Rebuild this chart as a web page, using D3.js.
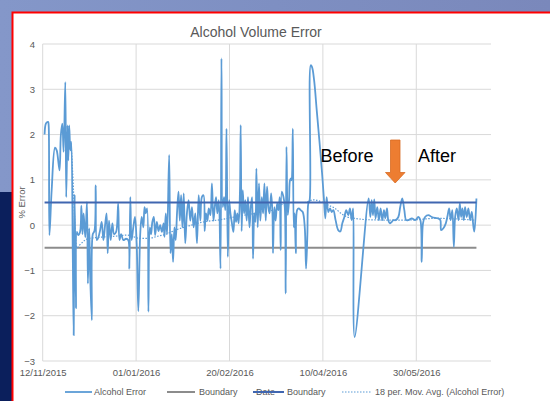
<!DOCTYPE html>
<html>
<head>
<meta charset="utf-8">
<script src="https://cdn.jsdelivr.net/npm/d3@7/dist/d3.min.js"></script>
<style>
  body { margin: 0; background: #fff; }
  svg { display: block; font-family: "Liberation Sans", Arial, sans-serif; }
</style>
</head>
<body>
<svg id="chart" width="550" height="401"></svg>
<script>
// data: day offset from 12/11/2015 and % error
const startDate = "12/11/2015";
const dayOffset = [
  1, 1.8, 2.9, 3.2, 3.6, 4.8, 6.6, 7.5, 9, 9.7, 10.5, 11.2, 12.1, 12.6, 13.3, 13.7, 14.2, 14.8, 15.3, 16.1,
  16.6, 17.1, 17.8, 18.3, 19, 20, 20.7, 21.3, 21.9, 22.8, 23.7, 24.2, 24.9, 25.4, 26.3, 26.8, 27.7, 28.4, 29, 29.8,
  30.7, 31.6, 32.5, 33.4, 34.2, 34.8, 35.5, 36.4, 37.3, 38.2, 39.3, 40.4, 41.1, 42, 43.2, 44.6, 45.8, 46.4, 46.9, 47.6,
  48.5, 49.4, 50.3, 51.2, 52.2, 53, 53.9, 54.5, 55.2, 55.9, 56.6, 57.3, 58, 58.7, 59.5, 60.2, 61.1, 62, 62.9, 63.8,
  64.7, 65.2, 65.9, 66.6, 67.7, 68.4, 69.1, 69.8, 70.5, 71.2, 71.9, 72.7, 73.4, 74.1, 74.8, 75.5, 76.3, 77.2, 78.1, 79,
  79.9, 80.8, 81.7, 82.6, 83.5, 84.4, 85.2, 86.1, 86.7, 87.4, 88.2, 88.9, 89.8, 90.6, 91.4, 92.1, 92.8, 93.5, 94.3, 95.2,
  95.7, 96.4, 97.1, 97.8, 98.4, 99.1, 99.8, 100.5, 101.2, 102.1, 102.8, 103.5, 104.2, 104.9, 105.6, 106, 106.5, 107.1, 107.8, 108.5,
  109.2, 109.9, 110.7, 111.4, 112.1, 112.6, 113.3, 113.9, 114.4, 115.1, 115.8, 116.5, 117.3, 118, 118.7, 119.4, 120.1, 120.8, 121.5, 122.3,
  123, 123.3, 124, 124.7, 125.5, 126.2, 126.9, 127.4, 128, 128.9, 129.6, 130.1, 130.5, 131.2, 131.9, 132.4, 133, 133.3, 133.9, 134.4,
  134.9, 135.5, 136.2, 137.1, 138.1, 139.2, 140.3, 141, 141.7, 142.2, 142.9, 143.5, 144.2, 145.3, 146.7, 148.1, 149.5, 150.6, 151.3, 152,
  152.9, 153.8, 154.7, 155.6, 156.8, 158.2, 159.3, 160.4, 161.5, 162.5, 163.6, 164.5, 165.4, 166.2, 167, 174.5, 175.4, 176.1, 176.8, 177.5,
  178.2, 179.1, 180, 180.9, 181.8, 182.7, 183.4, 184.3, 185, 185.9, 186.8, 187.7, 188.9, 190.4, 191.4, 192.5, 193.6, 194.6, 195.8, 197.6,
  199.4, 201.1, 202.2, 202.9, 203.6, 204.7, 206.5, 208.3, 210.1, 211.8, 212.9, 213.3, 214.5, 215.8, 216.8, 217.6, 218.4, 219.3, 220.1, 220.8,
  221.7, 222.6, 223.3, 224, 224.7, 225.4, 226.1, 227, 227.9, 228.8, 229.7, 230.6, 231.1, 232.2
];
const alcoholError = [
  2.0, 2.25, 2.28, 2.2, -0.22, 0.77, 1.71, 1.65, 1.21, 1.98, 2.24, 1.62, 3.16, 0.62, 2.2, 1.43, 2.2, 1.65, 1.84, -0.62,
  -2.43, 0.66, -1.84, -0.15, -0.22, -0.15, 0.43, -0.2, 0.26, -0.27, 0.51, -1.29, -0.07, -1.07, -2.1, -0.2, -0.13, 0.88, -0.33, -0.27,
  -0.12, 0.07, -0.33, 0, 0.26, -0.62, 0.1, -0.33, 0.04, -0.2, -0.15, 0.48, -0.33, -0.2, -0.33, -0.3, -0.33, -0.96, 0.62, -0.33,
  -0.05, 0.18, -0.4, -1.9, -0.2, 0.18, -0.05, 0.4, 0.26, 0.37, -1.91, -0.05, -0.2, 0.07, 0.18, -0.22, 0.07, -0.13, 0, -0.15,
  0.04, -0.26, 0.26, -0.2, 1.55, -0.62, -0.2, -0.81, -0.05, -0.33, 0.26, 0.74, 0.1, 0.66, -0.05, 0.7, -0.4, 0.26, 0.55, 0.1,
  0.4, -0.05, 0.26, -0.4, 0.66, 0.1, 0.62, 0.66, -0.13, 0.26, 0.1, 0.37, 0.22, 0.92, 0.1, 0.4, 0.62, 0.26, 0.55, -0.96,
  3.68, 0.4, 0.62, 0.33, 2.13, -0.7, 0.55, 0.26, 0.07, -0.15, 0.33, 0.07, 0.26, 0.04, 0.74, 2.21, -0.13, 0.77, 0.26, 0.55,
  0.1, 0.62, -0.05, 0.4, 0.62, -0.74, 0.26, 0.07, 1.25, -0.05, 0.92, 0.1, 0.62, 0.26, 0.92, 0.1, 0.85, 0.4, 0.26, 0.7,
  0.26, -0.62, 0.4, 0.1, 0.48, 0.33, 0.62, -0.55, 0.74, 0.62, 0.4, -1.51, 1.73, 0.22, 0.55, 0.99, 1.03, 0.99, 2.13, -0.05,
  0.26, -0.62, 0.33, 0.37, 0.33, 0.29, -0.05, -0.96, -0.2, 0.48, 0.55, 3.53, 3.49, 3.2, 2.54, 1.88, 1.18, 0.55, 0.15, 0.62,
  0.29, 0.37, 0.29, 0.33, 0.11, -0.11, -0.14, 0.04, 0.18, 0.33, 0.22, 0.37, 0.11, 0.37, -2.47, 0.59, 0.18, 0.55, 0.22, 0.57,
  0.15, 0.4, 0.11, 0.37, 0.11, 0.33, 0.15, 0.37, 0.11, 0.04, 0.07, 0.11, 0.11, 0.18, 0.4, 0.59, 0.33, 0.11, 0.11, 0.15,
  0.11, 0.18, 0.11, -0.81, 0.04, 0.18, 0.22, 0.18, 0.16, 0.15, 0.11, -0.11, -0.07, 0.04, 0.22, 0.37, 0.11, 0.33, -0.48, 0.18,
  0.37, 0.11, 0.48, 0.18, 0.37, 0.11, 0.4, 0.18, 0.37, 0.11, 0.29, -0.04, -0.14, 0.59
];

// dotted trendline as it appears in the picture (18 per. moving average)
const movAvgDay = [
  15.2, 16.4, 17.3, 18.2, 20, 22.7, 25.4, 30, 40, 45, 52, 57, 61, 66, 71, 78, 86, 95, 105,
  112, 118, 125, 130, 140, 145, 150, 153, 156.5, 160, 163, 167, 174, 190, 200, 210, 220, 231
];
const movAvgValue = [
  1.8, 0.85, -0.05, -0.5, -0.43, -0.33, -0.29, -0.27, -0.24, -0.22, -0.29, -0.29, -0.25, -0.2, -0.11, -0.02, 0.07, 0.12, 0.2,
  0.25, 0.3, 0.35, 0.5, 0.5, 0.56, 0.5, 0.44, 0.37, 0.25, 0.18, 0.15, 0.12, 0.11, 0.12, 0.15, 0.14, 0.11
];

const boundaryValue = -0.5;      // "Boundary"
const dateBoundaryValue = 0.5;   // "Date Boundary"

const xTickLabels = ["12/11/2015", "01/01/2016", "20/02/2016", "10/04/2016", "30/05/2016"];
const xEndLabel = "09/07/2016";
const yTicks = [-3, -2, -1, 0, 1, 2, 3, 4];
const legendLabels = ["Alcohol Error", "Boundary", "Boundary", "18 per. Mov. Avg. (Alcohol Error)"];

const svg = d3.select('#chart');
const parse = d3.utcParse('%d/%m/%Y');
const t0 = parse(startDate);
const toDate = (d) => new Date(t0.getTime() + d * 864e5);

const series = dayOffset.map((d, i) => ({date: toDate(d), value: alcoholError[i]}));
const movAvg = movAvgDay.map((d, i) => ({date: toDate(d), value: movAvgValue[i]}));

// slide background
const defs = svg.append('defs');
const grad = defs.append('linearGradient').attr('id', 'bg').attr('x1', 0).attr('x2', 1).attr('y1', 0).attr('y2', 0);
grad.append('stop').attr('offset', '0%').attr('stop-color', '#8497c9');
grad.append('stop').attr('offset', '50%').attr('stop-color', '#7e8fc2');
grad.append('stop').attr('offset', '100%').attr('stop-color', '#7a88bb');
svg.append('rect').attr('width', 550).attr('height', 401).attr('fill', 'url(#bg)');
svg.append('rect').attr('x', 0).attr('y', 192).attr('width', 13).attr('height', 209).attr('fill', '#0b1f5c');
svg.append('rect').attr('x', 12.5).attr('y', 12.5).attr('width', 545).attr('height', 400)
  .attr('fill', '#fff').attr('stroke', '#ff0000').attr('stroke-width', 2);

// scales
const x = d3.scaleUtc().domain([t0, parse(xEndLabel)]).range([42.7, 491]);
const y = d3.scaleLinear().domain([-3, 4]).range([361, 44]);
const xTicks = xTickLabels.map(parse);

// gridlines
const grid = svg.append('g');
grid.selectAll('line.h').data(yTicks).join('line')
  .attr('x1', x.range()[0]).attr('x2', x.range()[1])
  .attr('y1', (d) => y(d)).attr('y2', (d) => y(d))
  .attr('stroke', '#d9d9d9').attr('stroke-width', 1);
grid.selectAll('line.v').data(xTicks).join('line')
  .attr('x1', (d) => x(d)).attr('x2', (d) => x(d))
  .attr('y1', y(4)).attr('y2', y(-3))
  .attr('stroke', '#d9d9d9').attr('stroke-width', 1);

// axes
const yAxis = svg.append('g').attr('transform', 'translate(35,0)')
  .call(d3.axisLeft(y).tickValues(yTicks).tickSize(0).tickPadding(0).tickFormat(d3.format('d')));
const xAxis = svg.append('g').attr('transform', `translate(0,${y(-3) + 8})`)
  .call(d3.axisBottom(x).tickValues(xTicks).tickSize(0).tickPadding(0)
    .tickFormat((d, i) => xTickLabels[i]));
[yAxis, xAxis].forEach((a) => {
  a.select('.domain').remove();
  a.selectAll('text').attr('fill', '#595959').style('font-size', '9.5px');
});
xAxis.selectAll('text').attr('dy', '0.75em');

svg.append('text')
  .attr('transform', `translate(25,${y(0.5)}) rotate(-90)`)
  .attr('text-anchor', 'middle')
  .attr('fill', '#595959').style('font-size', '9.5px')
  .text('% Error');

svg.append('text')
  .attr('x', 256).attr('y', 32.5).attr('dy', '0.35em')
  .attr('text-anchor', 'middle')
  .attr('fill', '#595959').style('font-size', '14px')
  .text('Alcohol Volume Error');

// lines
const line = d3.line().x((d) => x(d.date)).y((d) => y(d.value));
const first = series[0].date, last = series[series.length - 1].date;

svg.append('path')
  .datum([{date: first, value: boundaryValue}, {date: last, value: boundaryValue}])
  .attr('d', line).attr('fill', 'none').attr('stroke', '#8c8c8c').attr('stroke-width', 2);

svg.append('path')
  .datum(series)
  .attr('d', line.curve(d3.curveCatmullRom.alpha(0.5)))
  .attr('fill', 'none').attr('stroke', '#5b9bd5').attr('stroke-width', 1.8)
  .attr('stroke-linejoin', 'round');

svg.append('path')
  .datum(movAvg)
  .attr('d', line.curve(d3.curveMonotoneX))
  .attr('fill', 'none').attr('stroke', '#5b9bd5').attr('stroke-width', 1.2)
  .attr('stroke-dasharray', '1.5,1.5');

svg.append('path')
  .datum([{date: first, value: dateBoundaryValue}, {date: last, value: dateBoundaryValue}])
  .attr('d', line.curve(d3.curveLinear)).attr('fill', 'none').attr('stroke', '#4066b0').attr('stroke-width', 2);

// annotations
svg.append('text').attr('x', 320.5).attr('y', 161.5)
  .style('font-size', '18px').attr('fill', '#000').text('Before');
svg.append('text').attr('x', 418).attr('y', 161.5)
  .style('font-size', '18px').attr('fill', '#000').text('After');
svg.append('path')
  .attr('d', 'M390.5,140 L400,140 L400,172.5 L405,172.5 L395.2,183 L385.5,172.5 L390.5,172.5 Z')
  .attr('fill', '#ed7d31').attr('stroke', '#d86b22').attr('stroke-width', 0.8);

// legend
const ly = 392;
const legend = svg.append('g').style('font-size', '9px');
const items = [
  {x0: 65, x1: 92, tx: 94, stroke: '#5b9bd5', w: 1.8, dash: null},
  {x0: 167, x1: 195, tx: 199, stroke: '#8c8c8c', w: 2, dash: null},
  {x0: 253, x1: 284, tx: 287, stroke: '#4066b0', w: 2, dash: null},
  {x0: 342, x1: 372, tx: 375, stroke: '#5b9bd5', w: 1.2, dash: '1.5,1.5'}
];
legend.append('text').attr('x', 256).attr('y', ly).attr('dy', '0.35em')
  .attr('fill', '#595959').text('Date');
items.forEach((it, i) => {
  legend.append('line')
    .attr('x1', it.x0).attr('x2', it.x1).attr('y1', ly).attr('y2', ly)
    .attr('stroke', it.stroke).attr('stroke-width', it.w)
    .attr('stroke-dasharray', it.dash);
  legend.append('text').attr('x', it.tx).attr('y', ly).attr('dy', '0.35em')
    .attr('fill', '#595959').text(legendLabels[i]);
});
</script>
</body>
</html>
